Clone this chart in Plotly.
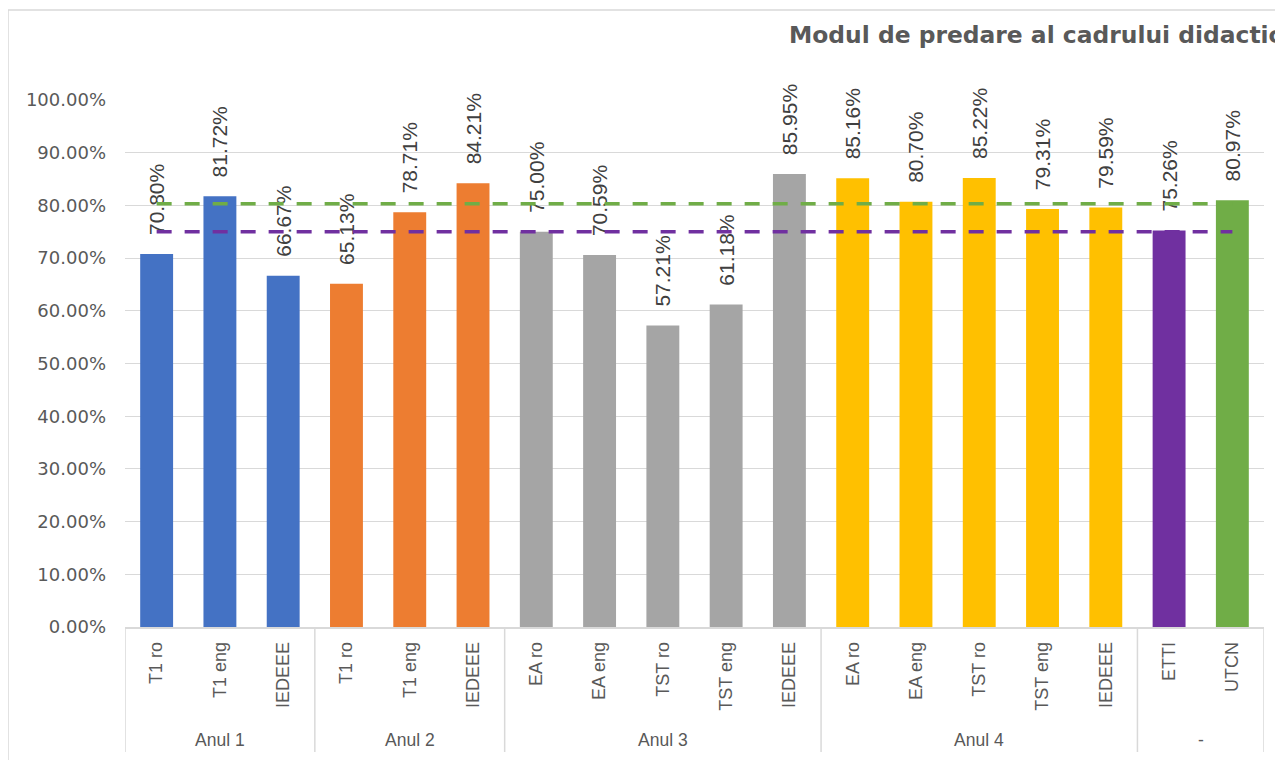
import plotly.graph_objects as go

# data
groups = ["Anul 1"] * 3 + ["Anul 2"] * 3 + ["Anul 3"] * 5 + ["Anul 4"] * 5 + ["-"] * 2
programs = ["T1 ro", "T1 eng", "IEDEEE",
            "T1 ro", "T1 eng", "IEDEEE",
            "EA ro", "EA eng", "TST ro", "TST eng", "IEDEEE",
            "EA ro", "EA eng", "TST ro", "TST eng", "IEDEEE",
            "ETTI", "UTCN"]
values = [70.80, 81.72, 66.67,
          65.13, 78.71, 84.21,
          75.00, 70.59, 57.21, 61.18, 85.95,
          85.16, 80.70, 85.22, 79.31, 79.59,
          75.26, 80.97]
ref_green = 80.3   # dashed reference line (green)
ref_purple = 75.0  # dashed reference line (purple)

group_colors = {"Anul 1": "#4472C4", "Anul 2": "#ED7D31", "Anul 3": "#A5A5A5",
                "Anul 4": "#FFC000", "-": None}
bar_colors = [group_colors[g] for g in groups]
bar_colors[-2] = "#7030A0"
bar_colors[-1] = "#70AD47"

n = len(values)
xs = list(range(n))
fracs = [v / 100 for v in values]
labels = ["\u00a0\u00a0\u2009%.2f%%" % v for v in values]

# page has an 8px body margin, so margins are shifted by that much
W, H = 1283, 760
ML, MR, MT, MB = 117, 27, 92, 141
plot_h = H - MT - MB
axis_y = 627 - 8  # axis line, in figure pixels
grey = "#595959"
line_grey = "#d9d9d9"

fig = go.Figure()
fig.add_trace(go.Bar(x=xs, y=fracs,
                     marker=dict(color=bar_colors, line=dict(width=0)),
                     width=0.52,
                     text=labels, textposition="outside", textangle=-90,
                     constraintext="none", cliponaxis=False,
                     textfont=dict(family="Liberation Sans, Arial", size=21, color="#404040"),
                     showlegend=False))
fig.add_trace(go.Scatter(x=xs, y=[ref_green / 100] * n,
                         mode="lines", line=dict(color="#70AD47", width=3.5, dash="15px,13px"),
                         showlegend=False))
fig.add_trace(go.Scatter(x=xs, y=[ref_purple / 100] * n,
                         mode="lines", line=dict(color="#7030A0", width=3.5, dash="15px,13px"),
                         showlegend=False))

# group dividers and labels below the axis
shapes = []
annotations = []
bottom = -(752 - 8 - axis_y) / plot_h
start = 0
for i in range(1, n + 1):
    if i == n or groups[i] != groups[start]:
        annotations.append(dict(x=(start + i - 1) / 2, y=-(740 - 8 - axis_y) / plot_h,
                                xref="x", yref="paper", text=groups[start],
                                showarrow=False, yanchor="middle",
                                font=dict(family="Liberation Sans, Arial", size=17.5, color=grey)))
        start = i
for i in range(n + 1):
    if i == 0 or i == n or groups[i] != groups[i - 1]:
        shapes.append(dict(type="line", xref="x", yref="paper", x0=i - 0.5, x1=i - 0.5,
                           y0=0, y1=bottom, line=dict(color=line_grey, width=1.5)))

# outer chart border
shapes.append(dict(type="rect", xref="paper", yref="paper",
                   x0=-(ML - 0) / (W - ML - MR), x1=1.2, y0=-0.5,
                   y1=(axis_y - 2) / plot_h,
                   line=dict(color=line_grey, width=1.5), layer="below"))

fig.update_layout(
    width=W, height=H,
    margin=dict(l=ML, r=MR, t=MT, b=MB),
    paper_bgcolor="white", plot_bgcolor="white",
    font=dict(family="Liberation Sans, Arial", color=grey),
    title=dict(text="<b>Modul de predare al cadrului didactic</b>",
               x=781 / W, xanchor="left", xref="container", yref="container",
               y=1 - 27 / H, yanchor="middle",
               font=dict(family="DejaVu Sans", size=23.4, color=grey)),
    shapes=shapes,
    annotations=annotations,
)
fig.update_yaxes(range=[0, 1.0], tickformat=".2%", dtick=0.1,
                 showgrid=True, gridcolor=line_grey, gridwidth=1,
                 zeroline=False, showline=False, ticks="", automargin=False,
                 ticklabelstandoff=18,
                 tickfont=dict(family="DejaVu Sans", size=18, color=grey))
fig.update_xaxes(range=[-0.5, n - 0.5], tickvals=xs, ticktext=programs, tickangle=-90,
                 showline=True, linecolor=line_grey, linewidth=1.5,
                 ticks="", showgrid=False, zeroline=False, automargin=False,
                 ticklabelstandoff=6,
                 tickfont=dict(family="Liberation Sans, Arial", size=18, color=grey))

fig.write_html("out.html")
